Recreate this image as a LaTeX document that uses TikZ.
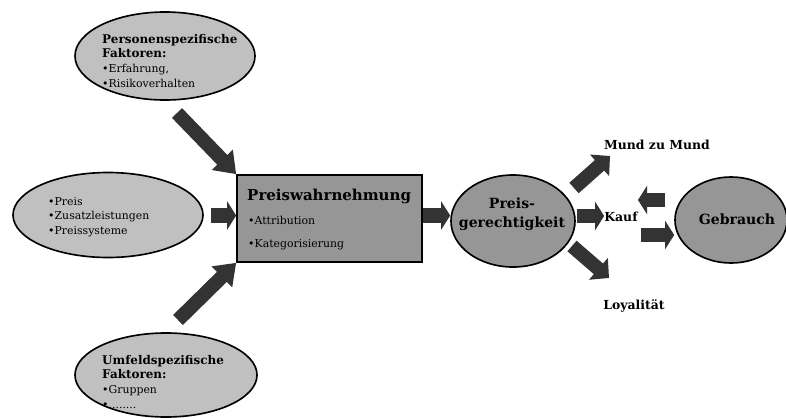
\documentclass[tikz,border=0pt]{standalone}
\usepackage{fontspec}
\setmainfont{DejaVu Serif}
\usetikzlibrary{shapes.geometric,arrows.meta}
\definecolor{hellgrau}{RGB}{192,192,192}
\definecolor{mittelgrau}{RGB}{150,150,150}
\definecolor{pfeilgrau}{RGB}{51,51,51}
\newcommand{\fett}[1]{{\fontsize{10.2}{12.5}\selectfont\bfseries #1}}
\tikzset{fakt/.style={ellipse,draw,line width=1.4pt,fill=hellgrau,inner sep=0pt},
         kern/.style={ellipse,draw,line width=1.4pt,fill=mittelgrau,inner sep=0pt},
         txt/.style={font=\fontsize{9.3}{12.5}\selectfont,align=left,inner sep=0pt,anchor=north west},
         titel/.style={font=\bfseries\fontsize{12}{16}\selectfont,align=center,inner sep=0pt},
         erg/.style={font=\bfseries\fontsize{10.6}{12}\selectfont,inner sep=0pt},
         blk/.style={pfeilgrau,line width=0.44cm,-{Triangle[length=0.27cm,width=0.84cm]}},
         blkm/.style={pfeilgrau,line width=0.42cm,-{Triangle[length=0.42cm,width=0.84cm]}},
         blkd/.style={pfeilgrau,line width=0.42cm,-{Triangle[length=0.6cm,width=0.84cm]}}}

\begin{document}
\begin{tikzpicture}[x=0.03cm,y=-0.03cm]
  \useasboundingbox (0,0) rectangle (786,417);
  % Einflussfaktoren
  \node[fakt,minimum width=5.4cm,minimum height=2.64cm] (pers) at (165,56) {};
  \node[fakt,minimum width=5.7cm,minimum height=2.55cm] (preis) at (108,215) {};
  \node[fakt,minimum width=5.46cm,minimum height=2.52cm] (umf) at (166,375) {};
  \node[txt] (perstxt) at (102,34) {\fett{Personenspezifische}\\\fett{Faktoren:}\\\textbullet Erfahrung,\\\textbullet Risikoverhalten};
  \node[txt] (preistxt) at (48,197) {\textbullet Preis\\\textbullet Zusatzleistungen\\\textbullet Preissysteme};
  \node[txt] (umftxt) at (102,355) {\fett{Umfeldspezifische}\\\fett{Faktoren:}\\\textbullet Gruppen\\\textbullet ........};
  % Wahrnehmung
  \node[draw,line width=1.4pt,fill=mittelgrau,minimum width=5.55cm,minimum height=2.61cm] (box) at (329.5,218.5) {};
  \node[titel,font=\bfseries\fontsize{12.8}{16}\selectfont,anchor=base west] (boxtit) at (247,200) {Preiswahrnehmung};
  \node[txt,anchor=base west] (attr) at (248,224) {\textbullet Attribution};
  \node[txt,anchor=base west] (kat) at (248,247) {\textbullet Kategorisierung};
  % Gerechtigkeit und Folgen
  \node[kern,minimum width=3.72cm,minimum height=2.76cm] (ger) at (513,221) {};
  \node[titel] (gertxt) at (512,214) {Preis-\\gerechtigkeit};
  \node[kern,minimum width=3.36cm,minimum height=2.58cm] (gebr) at (731,220) {};
  \node[titel] (gebrtxt) at (737,219.5) {Gebrauch};
  \node[erg] (mund) at (657,145) {Mund zu Mund};
  \node[erg] (kauf) at (621,217) {Kauf};
  \node[erg] (loy) at (634,306) {Loyalität};
  % Blockpfeile
  \coordinate (p1) at (177,113);
  \coordinate (p3) at (178,320);
  \coordinate (p2) at (211,215.5);
  \coordinate (p4) at (423,215.5);
  \coordinate (p5) at (577,216);
  \coordinate (p6a) at (574,188);  \coordinate (p6b) at (610,156);
  \coordinate (p7a) at (572,246);  \coordinate (p7b) at (609,278);
  \coordinate (p8a) at (665,200);  \coordinate (p8b) at (638,200);
  \coordinate (p9) at (641,235);
  \draw[blkd] (p1) -- (box.north west);
  \draw[blkd] (p3) -- (box.south west);
  \draw[blk] (p2) -- (p2 -| box.west);
  \draw[blk] (p4) -- (p4 -| ger.west);
  \draw[blk] (p5) -- (p5 -| kauf.west);
  \draw[blkm] (p6a) -- (p6b);
  \draw[blkm] (p7a) -- (p7b);
  \draw[blk] (p8a) -- (p8b);
  \draw[blk] (p9) -- (p9 -| gebr.west);
\end{tikzpicture}
\end{document}
